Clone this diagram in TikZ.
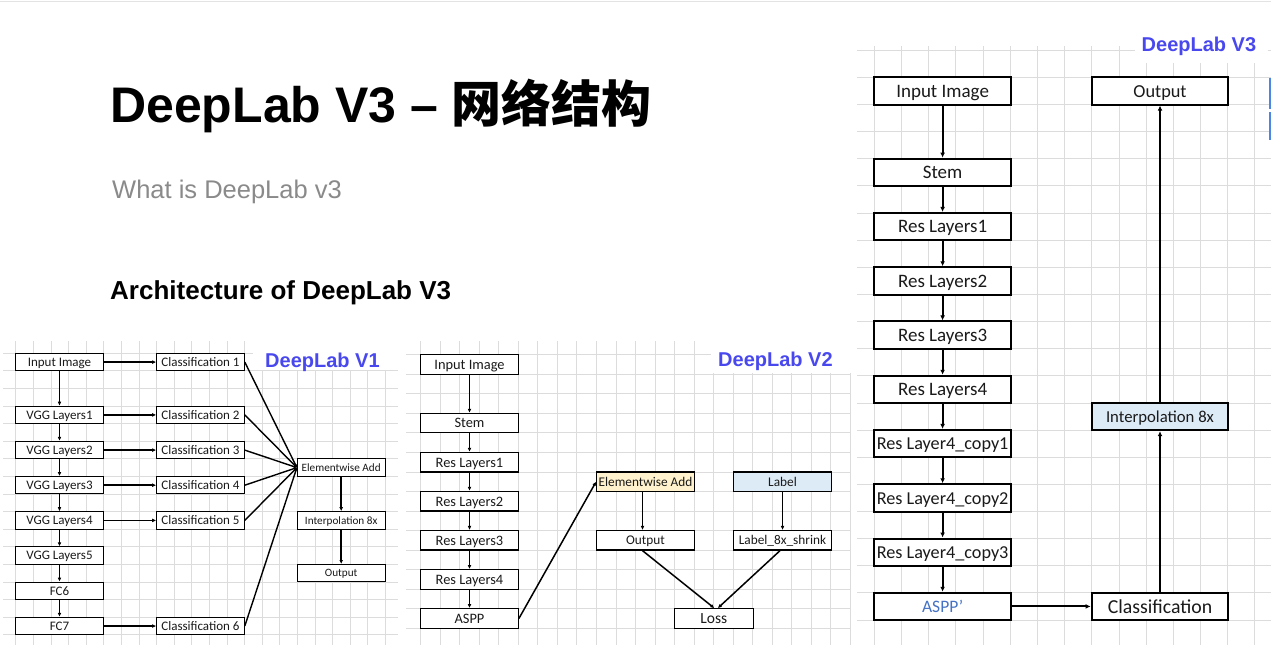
\documentclass[tikz,border=0pt]{standalone}
\usepackage{fontspec}
\setmainfont{Liberation Sans}
\newfontfamily\carl{Carlito}
\newfontfamily\cjk{Noto Sans CJK SC}
\usetikzlibrary{arrows.meta}
\definecolor{gridc}{HTML}{DCDCDC}
\definecolor{lblue}{HTML}{4848EE}
\definecolor{fyel}{HTML}{FFF2CC}
\definecolor{fblu}{HTML}{DDEBF7}
\definecolor{asppc}{HTML}{4472C4}
\definecolor{subg}{HTML}{8A8A8A}
\definecolor{barc}{HTML}{4A86E8}
\definecolor{txt}{HTML}{1A1A1A}
\tikzset{
  gl/.style={draw=gridc, line width=0.8pt},
  fs/.style={font=\carl\fontsize{#1}{#1}\selectfont, text height={0.67*#1pt}, text depth=0pt},
  bx/.style={draw=black, fill=white, inner sep=0pt, align=center, text=txt},
  b1/.style={bx, line width=1pt, minimum width=87.6pt, minimum height=17.4pt, fs=13},
  b1s/.style={b1, fs=11.2},
  b2/.style={bx, line width=1.2pt, minimum width=97.6pt, minimum height=19.5pt, fs=14.4},
  b2s/.style={b2, fs=13.3},
  b3/.style={bx, line width=2pt, minimum width=136.7pt, minimum height=27.3pt, fs=19},
  a1/.style={line width=1.5pt, -{Latex[length=4pt,width=3.8pt]}},
  a2/.style={line width=1.5pt, -{Latex[length=4pt,width=3.8pt]}},
  a3/.style={line width=2pt, -{Latex[length=5pt,width=4.8pt]}},
  vlab/.style={anchor=base west, inner sep=0pt, text=lblue, font=\bfseries\fontsize{20}{22}\selectfont},
}
\begin{document}
\begin{tikzpicture}[x=1pt,y=-1pt]
\useasboundingbox (0,0) rectangle (1271,653);
\fill[white] (0,0) rectangle (1271,653);
\draw[gray!22, line width=1pt] (0,1.5) -- (1271,1.5);

% ---------- grids ----------
\foreach \k in {0,...,21} \draw[gl] ({15.7+17.6*\k},341) -- ({15.7+17.6*\k},645);
\foreach \k in {0,...,16} \draw[gl] (3,{353.3+17.59*\k}) -- (398,{353.3+17.59*\k});
\foreach \k in {0,...,22} \draw[gl] ({420.7+19.52*\k},341) -- ({420.7+19.52*\k},645);
\foreach \k in {0,...,14} \draw[gl] (406,{354.7+19.54*\k}) -- (851,{354.7+19.54*\k});
\foreach \k in {0,...,14} \draw[gl] ({874.3+27.18*\k},46) -- ({874.3+27.18*\k},645);
\foreach \k in {-1,...,20} \draw[gl] (857,{77.3+27.135*\k}) -- (1271,{77.3+27.135*\k});
\fill[white] (253,340) rectangle (400,369.5);
\fill[white] (711,340) rectangle (852,373);
\fill[white] (1135,30) rectangle (1268,63);
\fill[barc] (1268.6,77.5) rectangle (1271,109);
\fill[barc] (1268.6,111.5) rectangle (1271,140);

% ---------- texts ----------
\node[anchor=base west, inner sep=0pt, font=\bfseries\fontsize{50}{56}\selectfont] (title) at (110,122)
  {DeepLab V3 – {\cjk\bfseries 网络结构}};
\node[anchor=base west, inner sep=0pt, text=subg, font=\fontsize{25.5}{28}\selectfont] (sub) at (112,198) {What is DeepLab v3};
\node[anchor=base west, inner sep=0pt, font=\bfseries\fontsize{26}{28}\selectfont] (arch) at (110,299) {Architecture of DeepLab V3};
\node[vlab] (l1) at (265,367.5) {DeepLab V1};
\node[vlab] (l2) at (718,366.5) {DeepLab V2};
\node[vlab] (l3) at (1141.5,51.5) {DeepLab V3};

% ---------- DeepLab V1 ----------
\node[b1] (i1) at (59.5,362.1) {Input Image};
\node[b1] (g1) at (59.5,414.9) {VGG Layers1};
\node[b1] (g2) at (59.5,450.1) {VGG Layers2};
\node[b1] (g3) at (59.5,485.2) {VGG Layers3};
\node[b1] (g4) at (59.5,520.4) {VGG Layers4};
\node[b1] (g5) at (59.5,555.6) {VGG Layers5};
\node[b1] (f6) at (59.5,590.8) {FC6};
\node[b1] (f7) at (59.5,626.0) {FC7};
\node[b1] (c1) at (200.5,362.1) {Classification 1};
\node[b1] (c2) at (200.5,414.9) {Classification 2};
\node[b1] (c3) at (200.5,450.1) {Classification 3};
\node[b1] (c4) at (200.5,485.2) {Classification 4};
\node[b1] (c5) at (200.5,520.4) {Classification 5};
\node[b1] (c6) at (200.5,626.0) {Classification 6};
\node[b1s] (ea1) at (341.2,467.6) {Elementwise Add};
\node[b1s] (ip1) at (341.2,520.4) {Interpolation 8x};
\node[b1s] (o1) at (341.2,573.2) {Output};
\draw[a1] (i1) -- (g1);
\draw[a1] (g1) -- (g2);
\draw[a1] (g2) -- (g3);
\draw[a1] (g3) -- (g4);
\draw[a1] (g4) -- (g5);
\draw[a1] (g5) -- (f6);
\draw[a1] (f6) -- (f7);
\draw[a1] (i1) -- (c1);
\draw[a1] (g1) -- (c2);
\draw[a1] (g2) -- (c3);
\draw[a1] (g3) -- (c4);
\draw[a1] (g4) -- (c5);
\draw[a1] (f7) -- (c6);
\foreach \c in {c1,c2,c3,c4,c5,c6} \draw[line width=1.4pt, -{Latex[length=3pt,width=3pt]}] (\c.east) -- (ea1.west);
\draw[a1] (ea1) -- (ip1);
\draw[a1] (ip1) -- (o1);

% ---------- DeepLab V2 ----------
\node[b2] (i2) at (469.5,364.5) {Input Image};
\node[b2] (s2) at (469.5,423.1) {Stem};
\node[b2] (r21) at (469.5,462.2) {Res Layers1};
\node[b2] (r22) at (469.5,501.2) {Res Layers2};
\node[b2] (r23) at (469.5,540.3) {Res Layers3};
\node[b2] (r24) at (469.5,579.4) {Res Layers4};
\node[b2] (as2) at (469.5,618.5) {ASPP};
\node[b2s, fill=fyel] (ea2) at (645.5,481.7) {Elementwise Add};
\node[b2s, fill=fblu] (lb2) at (782.5,481.7) {Label};
\node[b2s] (o2) at (645.5,540.3) {Output};
\node[b2s] (ls2) at (782.5,540.3) {Label\_8x\_shrink};
\node[b2, minimum width=79pt, fs=15.5] (loss) at (713.8,618.5) {Loss};
\draw[a2] (i2) -- (s2);
\draw[a2] (s2) -- (r21);
\draw[a2] (r21) -- (r22);
\draw[a2] (r22) -- (r23);
\draw[a2] (r23) -- (r24);
\draw[a2] (r24) -- (as2);
\draw[a2] (as2.east) -- (ea2.west);
\draw[a2] ([xshift=-3pt]ea2.south) -- ([xshift=-3pt]o2.north);
\draw[a2] (lb2) -- (ls2);
\draw[a2] ([xshift=-3pt]o2.south) -- ([xshift=0.5pt]loss.north);
\draw[a2] ([xshift=-2.5pt]ls2.south) -- ([xshift=4pt]loss.north);

% ---------- DeepLab V3 ----------
\node[b3] (i3) at (942.6,90.9) {Input Image};
\node[b3] (s3) at (942.6,172.3) {Stem};
\node[b3] (r31) at (942.6,226.6) {Res Layers1};
\node[b3] (r32) at (942.6,280.9) {Res Layers2};
\node[b3] (r33) at (942.6,335.1) {Res Layers3};
\node[b3] (r34) at (942.6,389.4) {Res Layers4};
\node[b3, fs=18.2] (k1) at (942.6,443.6) {Res Layer4\_copy1};
\node[b3, fs=18.2] (k2) at (942.6,497.9) {Res Layer4\_copy2};
\node[b3, fs=18.2] (k3) at (942.6,552.2) {Res Layer4\_copy3};
\node[b3, text=asppc, fs=17.5] (as3) at (942.6,606.4) {ASPP’};
\node[b3, fs=19.8] (cl3) at (1160,606.4) {Classification};
\node[b3, fill=fblu, fs=16.7] (ip3) at (1160,416.5) {Interpolation 8x};
\node[b3, fs=18.3] (o3) at (1160,90.9) {Output};
\draw[a3] (i3) -- (s3);
\draw[a3] (s3) -- (r31);
\draw[a3] (r31) -- (r32);
\draw[a3] (r32) -- (r33);
\draw[a3] (r33) -- (r34);
\draw[a3] (r34) -- (k1);
\draw[a3] (k1) -- (k2);
\draw[a3] (k2) -- (k3);
\draw[a3] (k3) -- (as3);
\draw[a3] (as3) -- (cl3);
\draw[a3] (cl3) -- (ip3);
\draw[a3] (ip3) -- (o3);
\end{tikzpicture}
\end{document}
